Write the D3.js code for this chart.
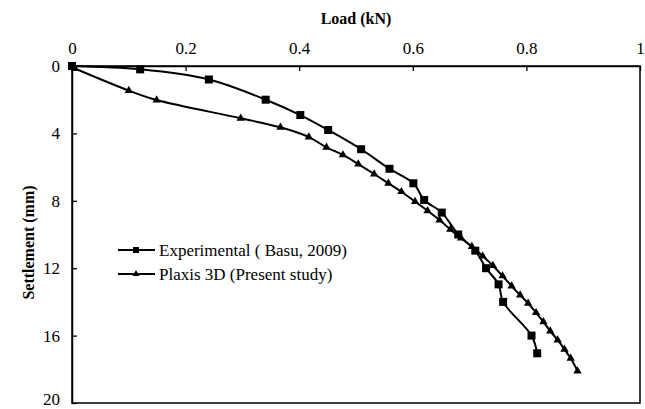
<!DOCTYPE html>
<html>
<head>
<meta charset="utf-8">
<script src="https://cdn.jsdelivr.net/npm/d3@7"></script>
<style>
  body { margin: 0; background: #fff; }
  svg text { font-family: "Liberation Serif", "Times New Roman", "DejaVu Serif", serif; fill: #000; }
</style>
</head>
<body>
<div id="grafico"></div>
<script>
// dados
const experimental = [
    [0, 0], [0.12, 0.2], [0.241, 0.8], [0.341, 2.0], [0.402, 2.91], [0.451, 3.8],
    [0.509, 4.94], [0.559, 6.1], [0.601, 6.96], [0.62, 7.95], [0.651, 8.7],
    [0.68, 10.0], [0.71, 10.96], [0.729, 12.0], [0.751, 12.96], [0.759, 14.0],
    [0.809, 16.0], [0.819, 17.05]
];
const plaxis = [
    [0.005, 0.15], [0.1, 1.46], [0.149, 2.02], [0.297, 3.1], [0.367, 3.64],
    [0.417, 4.22], [0.448, 4.83], [0.477, 5.28], [0.504, 5.82], [0.532, 6.41],
    [0.557, 6.96], [0.58, 7.46], [0.604, 8.05], [0.626, 8.59], [0.647, 9.14],
    [0.666, 9.7], [0.685, 10.22], [0.704, 10.72], [0.723, 11.28], [0.741, 11.85],
    [0.758, 12.46], [0.774, 13.06], [0.789, 13.6], [0.803, 14.08], [0.817, 14.64],
    [0.83, 15.18], [0.842, 15.73], [0.855, 16.26], [0.867, 16.81], [0.878, 17.35],
    [0.89, 18.1]
];
const ticksX = [0, 0.2, 0.4, 0.6, 0.8, 1];
const ticksY = [0, 4, 8, 12, 16, 20];
const nomes = ["Experimental ( Basu, 2009)", "Plaxis 3D (Present study)"];

const fonte = "'Liberation Serif', 'Times New Roman', 'DejaVu Serif', serif";
const largura = 645;
const altura = 409;
const margem = { top: 66, right: 5, bottom: 6, left: 72 };

const svg = d3.select("#grafico")
    .append("svg")
    .attr("width", largura)
    .attr("height", altura)
    .attr("font-family", fonte);

const x = d3.scaleLinear().domain([0, 1]).range([margem.left, largura - margem.right]);
const y = d3.scaleLinear().domain([0, 20]).range([margem.top, altura - margem.bottom]);

// moldura
svg.append("rect")
    .attr("x", x(0)).attr("y", y(0))
    .attr("width", x(1) - x(0)).attr("height", y(20) - y(0))
    .attr("fill", "none").attr("stroke", "#000").attr("stroke-width", 1.5);

// eixo x em cima, ticks para dentro
const eixoX = svg.append("g")
    .attr("transform", `translate(0,${y(0)})`)
    .call(d3.axisTop(x).tickValues(ticksX).tickFormat(d3.format("")).tickSizeInner(-5).tickSizeOuter(0).tickPadding(12));
eixoX.attr("font-family", fonte);
eixoX.select(".domain").attr("stroke", "#000").attr("stroke-width", 1.5);
eixoX.selectAll(".tick line").attr("stroke", "#000").attr("stroke-width", 1.3);
eixoX.selectAll("text").attr("font-family", fonte).style("font-size", "17px");

// eixo y à esquerda
const eixoY = svg.append("g")
    .attr("transform", `translate(${x(0)},0)`)
    .call(d3.axisLeft(y).tickValues(ticksY).tickSizeInner(-5).tickSizeOuter(0).tickPadding(12));
eixoY.attr("font-family", fonte);
eixoY.select(".domain").attr("stroke", "#000").attr("stroke-width", 1.5);
eixoY.selectAll(".tick line").attr("stroke", "#000").attr("stroke-width", 1.3);
eixoY.selectAll("text").attr("font-family", fonte).style("font-size", "17px");
// o 20 fica cortado na borda, sobe um pouco
eixoY.selectAll(".tick text").filter(d => d === 20).attr("dy", "0.1em");

// titulos
svg.append("text")
    .attr("x", (x(0) + x(1)) / 2).attr("y", 24)
    .attr("text-anchor", "middle")
    .style("font-size", "16px").style("font-weight", "bold")
    .text("Load (kN)");
svg.append("text")
    .attr("transform", `translate(34,${(y(0) + y(20)) / 2 + 8}) rotate(-90)`)
    .attr("text-anchor", "middle")
    .style("font-size", "16px").style("font-weight", "bold")
    .text("Settlement (mm)");

const linha = d3.line()
    .x(d => x(d[0]))
    .y(d => y(d[1]))
    .curve(d3.curveCatmullRom.alpha(0.5));

const tri = d3.symbol().type(d3.symbolTriangle).size(30);

// curva experimental
svg.append("path").datum(experimental)
    .attr("d", linha).attr("fill", "none").attr("stroke", "#000").attr("stroke-width", 2);
svg.selectAll(".quad")
    .data(experimental)
    .enter()
    .append("rect")
    .attr("x", d => x(d[0]) - 4).attr("y", d => y(d[1]) - 4)
    .attr("width", 8).attr("height", 8)
    .attr("fill", "#000");

// curva plaxis
svg.append("path").datum(plaxis)
    .attr("d", linha).attr("fill", "none").attr("stroke", "#000").attr("stroke-width", 2);
svg.selectAll(".tri")
    .data(plaxis)
    .enter()
    .append("path")
    .attr("d", tri)
    .attr("transform", d => `translate(${x(d[0])},${y(d[1])})`)
    .attr("fill", "#000");

// legenda
const legenda = svg.append("g").attr("transform", "translate(118,250)");
nomes.forEach((nome, i) => {
    const g = legenda.append("g").attr("transform", `translate(0,${i * 24})`);
    g.append("line").attr("x1", 0).attr("x2", 37).attr("y1", 0).attr("y2", 0)
        .attr("stroke", "#000").attr("stroke-width", 2);
    if (i === 0) {
        g.append("rect").attr("x", 15).attr("y", -3).attr("width", 6).attr("height", 6).attr("fill", "#000");
    } else {
        g.append("path").attr("d", d3.symbol().type(d3.symbolTriangle).size(20))
            .attr("transform", "translate(18,0)").attr("fill", "#000");
    }
    g.append("text").attr("x", 41).attr("y", 6)
        .attr("font-family", fonte)
        .style("font-size", "17px")
        .text(nome);
});
</script>
</body>
</html>
